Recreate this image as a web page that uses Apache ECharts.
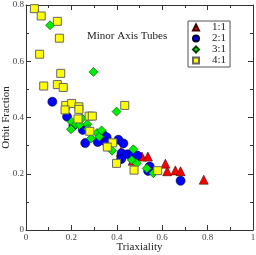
<!DOCTYPE html>
<html><head><meta charset="utf-8">
<script src="https://cdn.jsdelivr.net/npm/echarts@6/dist/echarts.min.js"></script>
<style>html,body{margin:0;padding:0;background:#fff}#c{width:256px;height:255px}</style>
</head><body><div id="c"></div>
<script>
const xTicks = [0, 0.2, 0.4, 0.6, 0.8, 1];
const yTicks = [0, 0.2, 0.4, 0.6, 0.8];
const seriesNames = ['1:1', '2:1', '3:1', '4:1'];
const ratio11 = [[0.338,0.320],[0.417,0.277],[0.470,0.246],[0.511,0.261],[0.537,0.261],[0.614,0.236],[0.622,0.209],[0.658,0.212],[0.681,0.209],[0.783,0.179]];
const ratio21 = [[0.116,0.456],[0.181,0.403],[0.209,0.372],[0.250,0.356],[0.261,0.309],[0.316,0.313],[0.338,0.340],[0.355,0.330],[0.353,0.312],[0.407,0.321],[0.429,0.308],[0.421,0.273],[0.419,0.252],[0.447,0.269],[0.468,0.268],[0.490,0.265],[0.545,0.226],[0.538,0.210],[0.681,0.175]];
const ratio31 = [[0.106,0.728],[0.297,0.562],[0.399,0.421],[0.201,0.385],[0.220,0.376],[0.198,0.358],[0.235,0.373],[0.247,0.397],[0.270,0.376],[0.273,0.359],[0.313,0.345],[0.323,0.332],[0.333,0.354],[0.286,0.325],[0.379,0.282],[0.473,0.287],[0.466,0.249],[0.488,0.237],[0.532,0.219],[0.561,0.202]];
const ratio41 = [[0.037,0.787],[0.067,0.761],[0.138,0.742],[0.147,0.682],[0.060,0.625],[0.153,0.557],[0.078,0.512],[0.138,0.517],[0.164,0.507],[0.175,0.443],[0.201,0.450],[0.172,0.427],[0.233,0.438],[0.233,0.429],[0.229,0.395],[0.278,0.405],[0.292,0.405],[0.281,0.351],[0.435,0.443],[0.382,0.310],[0.358,0.295],[0.399,0.237],[0.476,0.213],[0.580,0.211]];

const FONT = 'Liberation Serif';
const axisCommon = {
  type: 'value', interval: 0.2,
  axisLine: {show: true, onZero: false, lineStyle: {color: '#333', width: 1}},
  axisTick: {show: true, inside: true, length: 5, lineStyle: {color: '#333'}},
  minorTick: {show: true, splitNumber: 2, length: 3, lineStyle: {color: '#333'}},
  splitLine: {show: false}, minorSplitLine: {show: false}
};
const fmtX = v => { const i = xTicks.findIndex(t => Math.abs(t - v) < 1e-9); return i >= 0 ? String(xTicks[i]) : ''; };
const fmtY = v => { const i = yTicks.findIndex(t => Math.abs(t - v) < 1e-9); return i >= 0 ? String(yTicks[i]) : ''; };

const chart = echarts.init(document.getElementById('c'), null, {renderer: 'canvas'});
chart.setOption({
  animation: false,
  backgroundColor: '#fff',
  grid: {left: 26, right: 3, top: 5, bottom: 25, containLabel: false, outerBoundsMode: 'none'},
  title: {text: 'Minor Axis Tubes', left: 82, top: 26, textStyle: {fontFamily: FONT, fontSize: 11, fontWeight: 'normal', color: '#222'}},
  legend: {
    orient: 'vertical', left: 188, top: 21, padding: [1, 4, 1, 4], itemGap: 0,
    itemWidth: 6, itemHeight: 6, borderColor: '#555', borderWidth: 1, backgroundColor: '#fff',
    textStyle: {fontFamily: FONT, fontSize: 11, lineHeight: 11, color: '#222', padding: [0, 0, 0, 8]},
    data: seriesNames
  },
  xAxis: [
    Object.assign({}, axisCommon, {min: 0, max: 1, position: 'bottom', name: 'Triaxiality', nameLocation: 'middle', nameGap: 12, nameMoveOverlap: false,
      nameTextStyle: {fontFamily: FONT, fontSize: 11, color: '#222'},
      axisLabel: {fontFamily: FONT, fontSize: 9, color: '#444', margin: 3, formatter: fmtX, showMaxLabel: true, hideOverlap: false}}),
    Object.assign({}, axisCommon, {min: 0, max: 1, position: 'top', axisLabel: {show: false}})
  ],
  yAxis: [
    Object.assign({}, axisCommon, {min: 0, max: 0.8, position: 'left', name: 'Orbit Fraction', nameLocation: 'middle', nameGap: 14, nameMoveOverlap: false,
      nameTextStyle: {fontFamily: FONT, fontSize: 11, color: '#222'},
      axisLabel: {fontFamily: FONT, fontSize: 9, color: '#444', margin: 2, formatter: fmtY, hideOverlap: false}}),
    Object.assign({}, axisCommon, {min: 0, max: 0.8, position: 'right', axisLabel: {show: false}})
  ],
  series: [
    {name: seriesNames[0], type: 'scatter', symbol: 'triangle', symbolSize: 9, data: ratio11,
     itemStyle: {color: '#ff0000', borderColor: '#400', borderWidth: 0.6, opacity: 1}},
    {name: seriesNames[1], type: 'scatter', symbol: 'circle', symbolSize: 9, data: ratio21,
     itemStyle: {color: '#0000ff', borderColor: '#000033', borderWidth: 0.6, opacity: 1}},
    {name: seriesNames[2], type: 'scatter', symbol: 'diamond', symbolSize: 9, data: ratio31,
     itemStyle: {color: '#00ee00', borderColor: '#004400', borderWidth: 0.6, opacity: 1}},
    {name: seriesNames[3], type: 'scatter', symbol: 'rect', symbolSize: 8, data: ratio41,
     itemStyle: {color: '#ffff00', borderColor: '#666', borderWidth: 1, opacity: 1}}
  ]
});
</script></body></html>
